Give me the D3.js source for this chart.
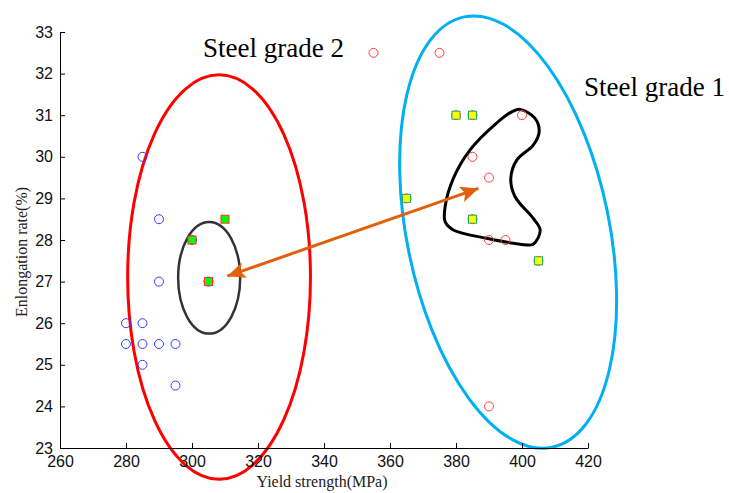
<!DOCTYPE html>
<html>
<head>
<meta charset="utf-8">
<script src="https://cdn.jsdelivr.net/npm/d3@7"></script>
<style>
  body { margin: 0; background: #fff; }
  svg { display: block; }
</style>
</head>
<body>
<script>
const width = 729;
const height = 493;

// grade 2 (blue open circles)
const g2X = [285, 290, 290, 280, 285, 280, 285, 290, 295, 285, 295, 300, 305];
const g2Y = [30, 28.5, 27, 26, 26, 25.5, 25.5, 25.5, 25.5, 25, 24.5, 28, 27];
// grade 2 selected (green squares)
const g2sX = [300, 305, 310];
const g2sY = [28, 27, 28.5];
// grade 1 (red open circles)
const g1X = [355, 375, 400, 385, 390, 390, 395, 390, 380, 385, 365, 385, 405];
const g1Y = [32.5, 32.5, 31, 30, 29.5, 28, 28, 24, 31, 31, 29, 28.5, 27.5];
// grade 1 selected (yellow squares)
const g1sX = [380, 385, 365, 385, 405];
const g1sY = [31, 31, 29, 28.5, 27.5];

const xTicks = [260, 280, 300, 320, 340, 360, 380, 400, 420];
const yTicks = [23, 24, 25, 26, 27, 28, 29, 30, 31, 32, 33];

// annotation shapes in data units
const blobX = [399.4, 403.9, 405.2, 403.4, 398.4, 396.6, 397.9, 403.4, 405.5, 403.4, 399.4, 389.3, 379.2, 376.7, 376.7, 379.2, 384.2, 392.3, 396.9];
const blobY = [31.14, 30.93, 30.6, 30.28, 29.92, 29.48, 29.04, 28.52, 28.24, 27.9, 27.9, 28.04, 28.24, 28.44, 28.8, 29.48, 30.16, 30.81, 31.08];
const arrowX = [310.7, 386.8];
const arrowY = [27.13, 29.24];

const x = d3.scaleLinear().domain([260, 420]).range([60, 588]);
const y = d3.scaleLinear().domain([23, 33]).range([448, 32]);

const svg = d3.select("body").append("svg")
    .attr("width", width)
    .attr("height", height);

// ellipses
function ellipse(cx, cy, rx, ry, rot, color, sw) {
    svg.append("ellipse")
        .attr("cx", x(cx))
        .attr("cy", y(cy))
        .attr("rx", x(260 + rx) - x(260))
        .attr("ry", y(23) - y(23 + ry))
        .attr("transform", `rotate(${rot},${x(cx)},${y(cy)})`)
        .attr("fill", "none")
        .attr("stroke", color)
        .attr("stroke-width", sw);
}
ellipse(308.2, 27.11, 27.7, 4.86, 0, "#ff0000", 3);
ellipse(395.8, 28.19, 30.7, 5.28, -11.5, "#00b0f0", 3);
ellipse(305.2, 27.09, 9.4, 1.34, 0, "#333333", 2.5);

// blob around grade 1 selection
const blob = d3.line()
    .x((d) => x(d[0]))
    .y((d) => y(d[1]))
    .curve(d3.curveCatmullRomClosed);
svg.append("path")
    .attr("d", blob(d3.zip(blobX, blobY)))
    .attr("fill", "none")
    .attr("stroke", "#000")
    .attr("stroke-width", 3);

// axes (inward ticks)
let xAxis = svg.append("g")
    .attr("transform", `translate(0,${y(23)})`)
    .call(d3.axisBottom(x).tickValues(xTicks).tickSizeInner(-5).tickSizeOuter(0).tickPadding(8));
let yAxis = svg.append("g")
    .attr("transform", `translate(${x(260)},0)`)
    .call(d3.axisLeft(y).tickValues(yTicks).tickSizeInner(-5).tickSizeOuter(0).tickPadding(7));
[xAxis, yAxis].forEach((a) => {
    a.selectAll("text")
        .attr("font-family", "Liberation Sans, Arial, sans-serif")
        .attr("font-size", 16)
        .attr("fill", "#111");
    a.select(".domain").attr("stroke", "#000");
    a.selectAll(".tick line").attr("stroke", "#000");
});

// points
const g2 = d3.zip(g2X, g2Y), g1 = d3.zip(g1X, g1Y);
svg.selectAll(".c2").data(g2).enter().append("circle")
    .attr("class", "c2")
    .attr("cx", (d) => x(d[0])).attr("cy", (d) => y(d[1]))
    .attr("r", 4.5).attr("fill", "none")
    .attr("stroke", "#3a3aff").attr("stroke-width", 1);
svg.selectAll(".c1").data(g1).enter().append("circle")
    .attr("class", "c1")
    .attr("cx", (d) => x(d[0])).attr("cy", (d) => y(d[1]))
    .attr("r", 4.5).attr("fill", "none")
    .attr("stroke", "#ff4040").attr("stroke-width", 1);

const sq = 8;
svg.selectAll(".s2").data(d3.zip(g2sX, g2sY)).enter().append("rect")
    .attr("class", "s2")
    .attr("x", (d) => x(d[0]) - sq / 2).attr("y", (d) => y(d[1]) - sq / 2)
    .attr("width", sq).attr("height", sq)
    .attr("fill", "#00ff00").attr("stroke", "#ff3030").attr("stroke-width", 1);
svg.selectAll(".s1").data(d3.zip(g1sX, g1sY)).enter().append("rect")
    .attr("class", "s1")
    .attr("x", (d) => x(d[0]) - sq / 2).attr("y", (d) => y(d[1]) - sq / 2)
    .attr("width", sq).attr("height", sq)
    .attr("fill", "#ffff00").attr("stroke", "#20b060").attr("stroke-width", 1);

// double arrow
const defs = svg.append("defs");
defs.append("marker")
    .attr("id", "head")
    .attr("markerUnits", "userSpaceOnUse")
    .attr("viewBox", "0 0 18 16")
    .attr("refX", 18).attr("refY", 8)
    .attr("markerWidth", 18).attr("markerHeight", 16)
    .attr("orient", "auto-start-reverse")
    .append("path")
    .attr("d", "M0,0 L18,8 L0,16 L4,8 Z")
    .attr("fill", "#e0600c");
svg.append("line")
    .attr("x1", x(arrowX[0])).attr("y1", y(arrowY[0]))
    .attr("x2", x(arrowX[1])).attr("y2", y(arrowY[1]))
    .attr("stroke", "#e0600c")
    .attr("stroke-width", 3)
    .attr("marker-start", "url(#head)")
    .attr("marker-end", "url(#head)");

// labels
const serif = "Liberation Serif, Times New Roman, serif";
svg.append("text")
    .attr("x", 203).attr("y", 57)
    .attr("font-family", serif).attr("font-size", 27)
    .text("Steel grade 2");
svg.append("text")
    .attr("x", 584).attr("y", 96)
    .attr("font-family", serif).attr("font-size", 27)
    .text("Steel grade 1");
svg.append("text")
    .attr("text-anchor", "middle")
    .attr("x", 322).attr("y", 487)
    .attr("font-family", serif).attr("font-size", 16).attr("fill", "#222")
    .text("Yield strength(MPa)");
svg.append("text")
    .attr("text-anchor", "middle")
    .attr("transform", "translate(27,252) rotate(-90)")
    .attr("font-family", serif).attr("font-size", 16).attr("fill", "#222")
    .text("Enlongation rate(%)");
</script>
</body>
</html>
